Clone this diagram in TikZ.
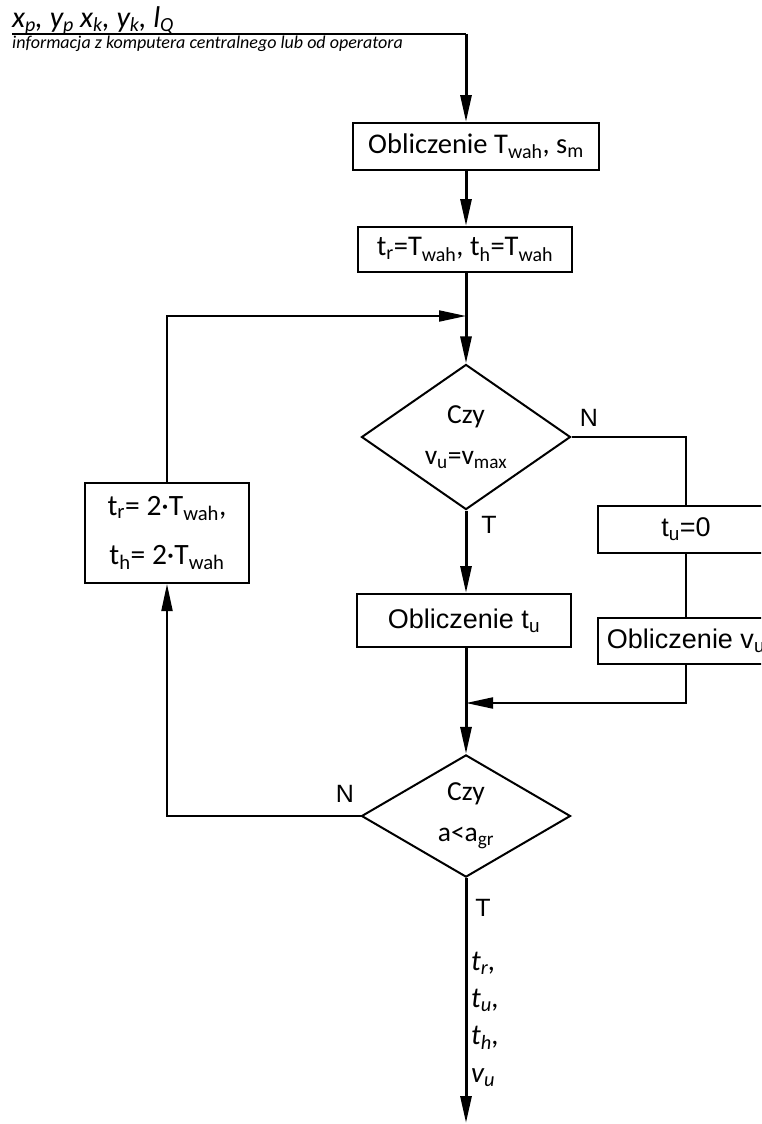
\documentclass[tikz,border=0pt]{standalone}
\usepackage{fontspec}
\setmainfont{Carlito}
\newfontfamily\arialf{Liberation Sans}
\usetikzlibrary{arrows.meta,shapes.geometric}
\newcommand\sbs[1]{\textsubscript{#1}}
\newcommand\tsb[1]{\raisebox{-0.11em}{\fontsize{20}{20}\selectfont #1}}
\begin{document}
\begin{tikzpicture}[x=1pt,y=-1pt,line join=miter,
  box/.style={draw,line width=2pt,inner sep=0pt,align=center,font=\fontsize{28.5}{32}\selectfont},
  abox/.style={box,font=\arialf\fontsize{27}{30}\selectfont},
  dec/.style={diamond,draw,line width=2pt,inner sep=0pt,minimum width=209pt,minimum height=121pt,align=center,font=\fontsize{27.5}{41}\selectfont},
  lbl/.style={inner sep=0pt,font=\arialf\fontsize{25}{28}\selectfont},
  outl/.style={inner sep=0pt,anchor=mid west,font=\itshape\fontsize{29}{32}\selectfont},
  spine/.style={line width=3pt},
  thin/.style={line width=2pt},
  arr/.style={-{Triangle[length=27pt,width=11pt]}}
]
\useasboundingbox (0,0) rectangle (761,1124);
\clip (0,0) rectangle (761,1124);

% input texts
\node[inner sep=0pt,anchor=base west,font=\itshape\fontsize{30}{32}\selectfont] (tin) at (12,28)
  {x\tsb{p}, y\tsb{p} x\tsb{k}, y\tsb{k}, l\tsb{Q}};
\node[inner sep=0pt,anchor=base west,font=\itshape\fontsize{18}{20}\selectfont] (tinfo) at (12,48.5)
  {informacja z komputera centralnego lub od operatora};
\coordinate (in0) at (12,34);
\coordinate (inc) at (466,34);

% nodes
\node[box,minimum width=246pt,minimum height=47pt] (b1) at (476,146.5) {Obliczenie T\sbs{wah}, s\sbs{m}};
\node[box,minimum width=214pt,minimum height=45pt] (b2) at (465,249.5) {t\sbs{r}=T\sbs{wah}, t\sbs{h}=T\sbs{wah}};
\coordinate (m1) at (466,316);
\node[dec] (d1) at (466,437) {Czy\\v\sbs{u}=v\sbs{max}};
\node[abox,minimum width=214pt,minimum height=53pt] (b3) at (464,620.5) {Obliczenie t\sbs{u}};
\node[abox,minimum width=176pt,minimum height=47pt] (b6) at (686,529.5) {t\sbs{u}=0};
\node[abox,minimum width=176pt,minimum height=46pt] (b7) at (686,641) {Obliczenie v\sbs{u}};
\coordinate (m2) at (466,703);
\node[dec] (d2) at (466,816) {Czy\\a<a\sbs{gr}};
\node[box,minimum width=164pt,minimum height=100pt,font=\fontsize{29.5}{49}\selectfont] (b5) at (167,533)
  {t\sbs{r}= 2·T\sbs{wah},\\t\sbs{h}= 2·T\sbs{wah}};
\coordinate (out) at (466,1123);

% labels
\node[lbl] (n1) at (589,418) {N};
\node[lbl] (t1) at (489,525) {T};
\node[lbl] (n2) at (345,794) {N};
\node[lbl] (t2) at (483,908) {T};
\node[outl] (o1) at (471,968) {t\sbs{r},};
\node[outl] (o2) at (471,1005) {t\sbs{u},};
\node[outl] (o3) at (471,1042) {t\sbs{h},};
\node[outl] (o4) at (471,1080) {v\sbs{u}};

% connectors
\draw[thin] (in0) -- (inc);
\draw[spine,arr] (inc) -- (inc |- b1.north);
\draw[spine,arr] (inc |- b1.south) -- (inc |- b2.north);
\draw[spine,arr] (inc |- b2.south) -- (d1.north);
\draw[thin,arr] (b5.north) |- (m1);
\draw[thin] (d1.east) -| (b6.north);
\draw[thin] (b6.south) -- (b7.north);
\draw[thin,arr] (b7.south) |- (m2);
\draw[spine,arr] (d1.south) -- (d1.south |- b3.north);
\draw[spine,arr] (d1.south |- b3.south) -- (d2.north);
\draw[thin,arr] (d2.west) -| (b5.south);
\draw[spine,arr] (d2.south) -- (out);
\end{tikzpicture}
\end{document}
